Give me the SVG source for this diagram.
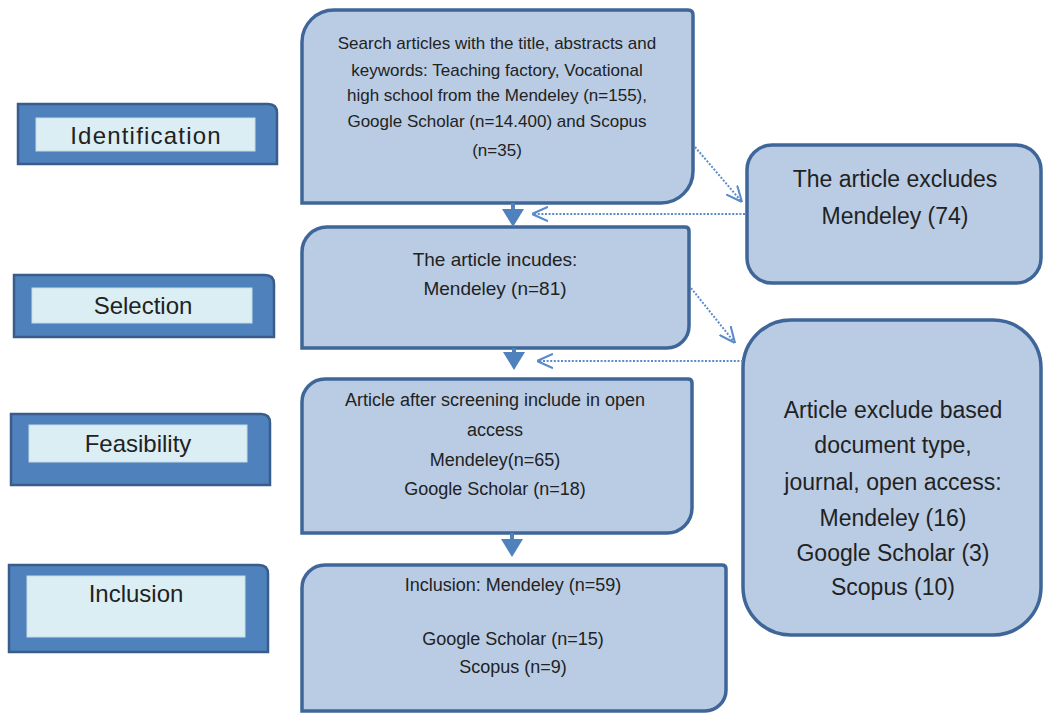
<svg xmlns="http://www.w3.org/2000/svg" width="1044" height="713" viewBox="0 0 1044 713">
<style>
  .box { fill: #b9cce4; stroke: #3f6698; stroke-width: 3.5; }
  .lblout { fill: #4f81bd; stroke: #385d8a; stroke-width: 2.5; }
  .lblin { fill: #dbeef4; stroke: #c5dbe8; stroke-width: 1; }
  text { font-family: "Liberation Sans", Arial, sans-serif; fill: #222; text-anchor: middle; dominant-baseline: central; }
  .lbl { font-size: 24px; }
  .t17 { font-size: 17px; }
  .t18 { font-size: 18px; }
  .t19 { font-size: 19px; }
  .t23 { font-size: 23px; }
  .dot { fill: none; stroke: #5b8bc9; stroke-width: 2; stroke-dasharray: 2 1.6; }
  .solid { stroke: #4f81bd; stroke-width: 4; fill: none; }
  .head { fill: #4f81bd; }
</style>
<defs>
  <marker id="chev" viewBox="0 0 10 10" refX="10" refY="5" markerWidth="16" markerHeight="16" markerUnits="userSpaceOnUse" orient="auto">
    <path d="M0,0.5 L10,5 L0,9.5" fill="none" stroke="#5b8bc9" stroke-width="1.3" stroke-dasharray="none"/>
  </marker>
</defs>

<g id="label-identification">
  <path class="lblout" d="M18,104 H268 Q277,104 277,113 V164 H18 Z"/>
  <rect class="lblin" x="36" y="118" width="219" height="33"/>
  <text class="lbl" x="146" y="135" letter-spacing="1.2">Identification</text>
</g>
<g id="label-selection">
  <path class="lblout" d="M14,275 H265 Q274,275 274,284 V337 H14 Z"/>
  <rect class="lblin" x="32" y="288" width="220" height="35"/>
  <text class="lbl" x="143" y="305">Selection</text>
</g>
<g id="label-feasibility">
  <path class="lblout" d="M11,414 H261 Q270,414 270,423 V485 H11 Z"/>
  <rect class="lblin" x="29" y="425" width="218" height="37"/>
  <text class="lbl" x="138" y="443">Feasibility</text>
</g>
<g id="label-inclusion">
  <path class="lblout" d="M9,565 H259 Q268,565 268,574 V652 H9 Z"/>
  <rect class="lblin" x="27" y="576" width="218" height="61"/>
  <text class="lbl" x="136" y="593">Inclusion</text>
</g>

<g id="box-search">
  <path class="box" d="M302,203 V42 A32,32 0 0 1 334,10 H688 Q693,10 693,15 V171 A32,32 0 0 1 661,203 Z"/>
  <text class="t17" x="497" y="43">Search articles with the title, abstracts and</text>
  <text class="t17" x="497" y="70">keywords: Teaching factory, Vocational</text>
  <text class="t17" x="497" y="95">high school from the Mendeley (n=155),</text>
  <text class="t17" x="497" y="121">Google Scholar (n=14.400) and Scopus</text>
  <text class="t17" x="497" y="150">(n=35)</text>
</g>
<g id="box-includes">
  <path class="box" d="M302,348 V252 A25,25 0 0 1 327,227 H685 Q689,227 689,231 V326 A22,22 0 0 1 667,348 Z"/>
  <text class="t19" x="495" y="259">The article incudes:</text>
  <text class="t19" x="495" y="288">Mendeley (n=81)</text>
</g>
<g id="box-screening">
  <path class="box" d="M302,533 V402 A23,23 0 0 1 325,379 H688 Q692,379 692,383 V508 A25,25 0 0 1 667,533 Z"/>
  <text class="t18" x="495" y="400">Article after screening include in open</text>
  <text class="t18" x="495" y="430">access</text>
  <text class="t18" x="495" y="460">Mendeley(n=65)</text>
  <text class="t18" x="495" y="489">Google Scholar (n=18)</text>
</g>
<g id="box-inclusion">
  <path class="box" d="M302,711 V588 A23,23 0 0 1 325,565 H722 Q726,565 726,569 V690 A21,21 0 0 1 705,711 Z"/>
  <text class="t18" x="513" y="585">Inclusion: Mendeley (n=59)</text>
  <text class="t18" x="513" y="639">Google Scholar (n=15)</text>
  <text class="t18" x="513" y="667">Scopus (n=9)</text>
</g>
<g id="box-excludes">
  <rect class="box" x="747" y="145" width="294" height="138" rx="25"/>
  <text class="t23" x="895" y="179">The article excludes</text>
  <text class="t23" x="895" y="216">Mendeley (74)</text>
</g>
<g id="box-exclude-based">
  <rect class="box" x="743" y="320" width="298" height="315" rx="48"/>
  <text class="t23" x="893" y="410">Article exclude based</text>
  <text class="t23" x="893" y="445">document type,</text>
  <text class="t23" x="893" y="482">journal, open access:</text>
  <text class="t23" x="893" y="518">Mendeley (16)</text>
  <text class="t23" x="893" y="553">Google Scholar (3)</text>
  <text class="t23" x="893" y="587">Scopus (10)</text>
</g>

<g id="connectors">
  <line class="solid" x1="513" y1="203" x2="513" y2="214"/>
  <polygon class="head" points="502,209 524,209 513,227"/>
  <line class="solid" x1="514" y1="348" x2="514" y2="356"/>
  <polygon class="head" points="503,352 525,352 514,370"/>
  <line class="solid" x1="512" y1="533" x2="512" y2="542"/>
  <polygon class="head" points="501,539 523,539 512,557"/>
  <path class="dot" d="M695,147 L742,202" marker-end="url(#chev)"/>
  <path class="dot" d="M745,214 L532,214" marker-end="url(#chev)"/>
  <path class="dot" d="M691,288 L735,343" marker-end="url(#chev)"/>
  <path class="dot" d="M743,361 L537,361" marker-end="url(#chev)"/>
</g>
</svg>
